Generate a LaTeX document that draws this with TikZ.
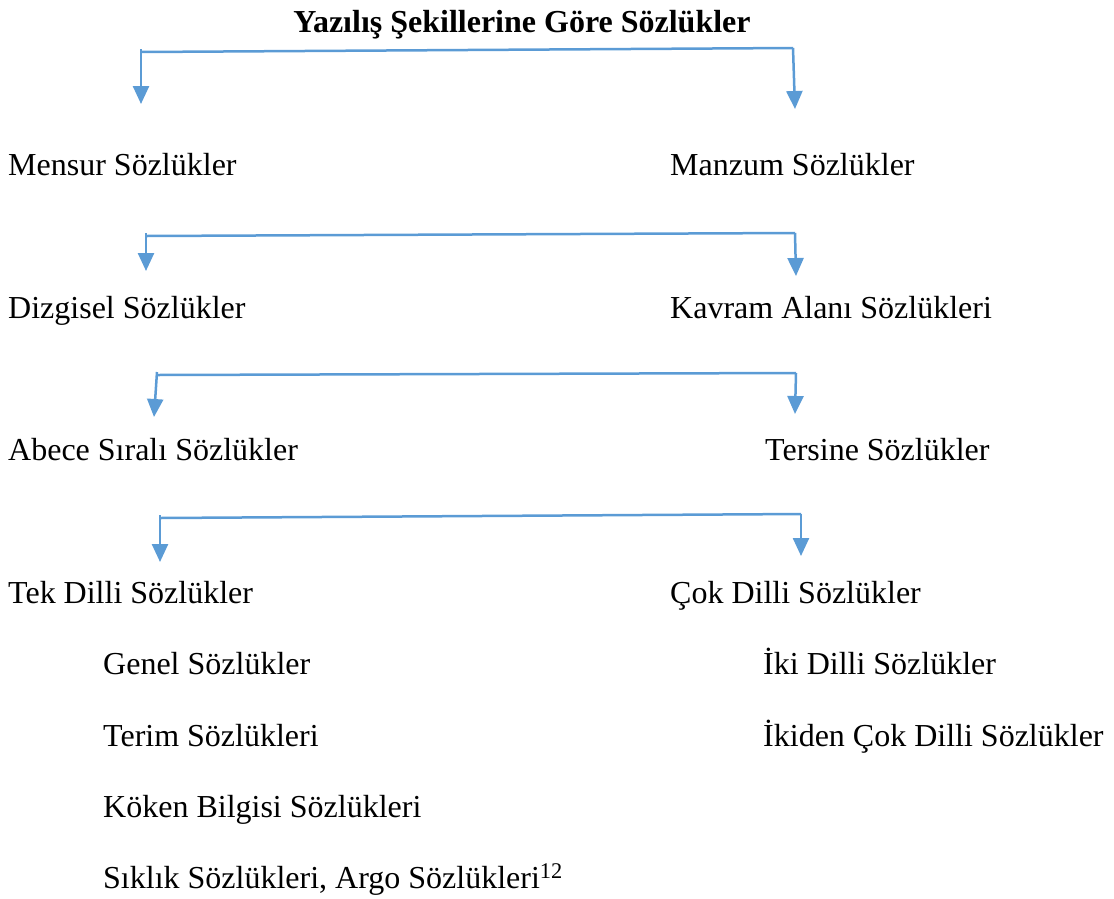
\documentclass[tikz,border=0pt]{standalone}
\usepackage{fontspec}
\setmainfont{Liberation Serif}
\usepackage{tikz}
\usetikzlibrary{arrows.meta}

\definecolor{okmavi}{HTML}{5B9BD5}

\begin{document}
\begin{tikzpicture}[x=1pt,y=-1pt,
yazi/.style={anchor=base west, inner sep=0pt, font=\fontsize{32}{38}\selectfont},
baslik/.style={anchor=base, inner sep=0pt, font=\fontsize{32}{38}\selectfont\bfseries},
ok/.style={okmavi, line width=2.5pt, -{Triangle[width=16pt,length=18pt]}},
cizgi/.style={okmavi, line width=2.5pt},
]
\useasboundingbox (0,0) rectangle (1114,898);

\node[baslik] (bas) at (522,32) {Yazılış Şekillerine Göre Sözlükler};

\node[yazi] (mensur) at (8,175) {Mensur Sözlükler};
\node[yazi] (manzum) at (670,175) {Manzum Sözlükler};
\node[yazi] (dizgi) at (8,318) {Dizgisel Sözlükler};
\node[yazi] (kavram) at (670,318) {Kavram Alanı Sözlükleri};
\node[yazi] (abece) at (8,460) {Abece Sıralı Sözlükler};
\node[yazi] (tersine) at (765,460) {Tersine Sözlükler};
\node[yazi] (tek) at (8,603) {Tek Dilli Sözlükler};
\node[yazi] (cok) at (670,603) {Çok Dilli Sözlükler};

\node[yazi] (genel) at (103,674) {Genel Sözlükler};
\node[yazi] (terim) at (103,746) {Terim Sözlükleri};
\node[yazi] (koken) at (103,817) {Köken Bilgisi Sözlükleri};
\node[yazi] (siklik) at (103,888) {Sıklık Sözlükleri, Argo Sözlükleri\textsuperscript{12}};
\node[yazi] (iki) at (763,674) {İki Dilli Sözlükler};
\node[yazi] (ikiden) at (763,746) {İkiden Çok Dilli Sözlükler};

% birinci ayrim
\coordinate (a1) at (141,52);
\coordinate (a2) at (793,48);
\coordinate (a3) at (795,109);
\coordinate (a4) at (141,104);
\draw[cizgi] (a1) -- (a2);
\draw[ok] (a2) -- (a3);
\draw[ok] ([yshift=3pt]a1) -- (a4);

% ikinci ayrim
\coordinate (b1) at (146,236);
\coordinate (b2) at (795,233);
\coordinate (b3) at (796,276);
\coordinate (b4) at (146,271);
\draw[cizgi] (b1) -- (b2);
\draw[ok] (b2) -- (b3);
\draw[ok] ([yshift=3pt]b1) -- (b4);

% ucuncu ayrim
\coordinate (c1) at (157,375);
\coordinate (c2) at (796,373);
\coordinate (c3) at (795,414);
\coordinate (c4) at (154,417);
\draw[cizgi] (c1) -- (c2);
\draw[ok] (c2) -- (c3);
\draw[ok] ([yshift=3pt]c1) -- (c4);

% dorduncu ayrim
\coordinate (d1) at (160,518);
\coordinate (d2) at (801,514);
\coordinate (d3) at (801,556);
\coordinate (d4) at (160,562);
\draw[cizgi] (d1) -- (d2);
\draw[ok] (d2) -- (d3);
\draw[ok] ([yshift=3pt]d1) -- (d4);

\end{tikzpicture}
\end{document}
